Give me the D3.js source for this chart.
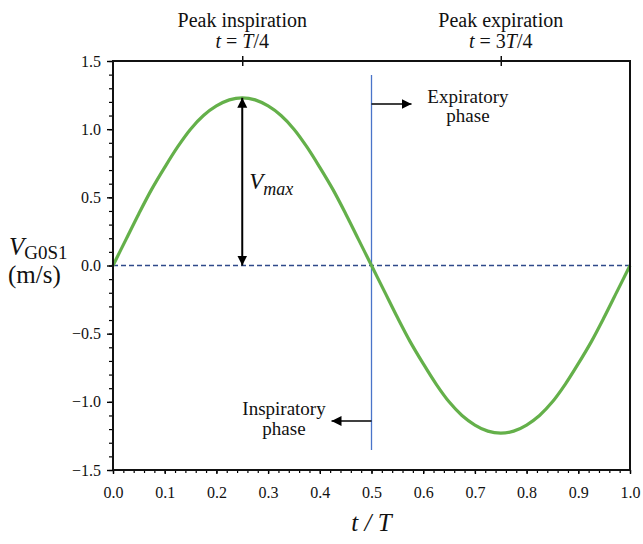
<!DOCTYPE html>
<html>
<head>
<meta charset="utf-8">
<script src="https://cdn.jsdelivr.net/npm/d3@7"></script>
</head>
<body style="margin:0;background:#fff">
<svg id="chart" width="643" height="544"></svg>
<script>
// Normalised time t/T over one breathing cycle
const tValues = [0, 0.025, 0.05, 0.075, 0.1, 0.125, 0.15, 0.175, 0.2, 0.225, 0.25,
  0.275, 0.3, 0.325, 0.35, 0.375, 0.4, 0.425, 0.45, 0.475, 0.5,
  0.525, 0.55, 0.575, 0.6, 0.625, 0.65, 0.675, 0.7, 0.725, 0.75,
  0.775, 0.8, 0.825, 0.85, 0.875, 0.9, 0.925, 0.95, 0.975, 1.0];
// Velocity V_G0S1 (m/s)
const velocity = [0, 0.19, 0.38, 0.56, 0.72, 0.87, 1.0, 1.10, 1.17, 1.215, 1.23,
  1.215, 1.17, 1.10, 1.0, 0.87, 0.72, 0.56, 0.38, 0.19, 0,
  -0.19, -0.38, -0.56, -0.72, -0.87, -1.0, -1.10, -1.17, -1.215, -1.23,
  -1.215, -1.17, -1.10, -1.0, -0.87, -0.72, -0.56, -0.38, -0.19, 0];
const xTicks = [0, 0.1, 0.2, 0.3, 0.4, 0.5, 0.6, 0.7, 0.8, 0.9, 1.0];
const yTicks = [1.5, 1.0, 0.5, 0.0, -0.5, -1.0, -1.5];
const peakTimes = [0.25, 0.75];
const peakTitles = ["Peak inspiration", "Peak expiration"];
const peakFractions = [["", "/4"], ["3", "/4"]];
const vMax = 1.23;
const phaseBoundary = 0.5;

const FONT = "Liberation Serif";
const svg = d3.select("#chart");
const plotLeft = 113, plotRight = 630, plotTop = 61, plotBottom = 470;

const x = d3.scaleLinear().domain([0, 1]).range([plotLeft, plotRight]);
const y = d3.scaleLinear().domain([-1.5, 1.5]).range([plotBottom, plotTop]);

// Serif text helper
function label(parent, px, py, size) {
  return parent.append("text").attr("x", px).attr("y", py)
    .attr("font-family", FONT).attr("font-size", size).attr("fill", "#111");
}

svg.append("defs").append("marker")
  .attr("id", "arrowHead")
  .attr("viewBox", "0 0 10 10")
  .attr("refX", 10).attr("refY", 5)
  .attr("markerWidth", 10).attr("markerHeight", 11)
  .attr("markerUnits", "userSpaceOnUse")
  .attr("orient", "auto-start-reverse")
  .append("path").attr("d", "M0,0 L10,5 L0,10 z").attr("fill", "#000");

// Zero reference line
svg.append("line")
  .attr("x1", x(0)).attr("x2", x(1))
  .attr("y1", y(0)).attr("y2", y(0))
  .attr("stroke", "#2f4a8a").attr("stroke-width", 1.6)
  .attr("stroke-dasharray", "5,3");

// Phase boundary
svg.append("line")
  .attr("x1", x(phaseBoundary)).attr("x2", x(phaseBoundary))
  .attr("y1", 75).attr("y2", 450)
  .attr("stroke", "#4a74c9").attr("stroke-width", 1.3);

// Velocity curve
const line = d3.line()
  .x((d, i) => x(tValues[i]))
  .y(d => y(d))
  .curve(d3.curveCatmullRom);
svg.append("path")
  .datum(velocity)
  .attr("d", line)
  .attr("fill", "none")
  .attr("stroke", "#64b04a")
  .attr("stroke-width", 3.2);

// Axes
const minorX = d3.range(0, 1.0001, 0.02);
const minorY = d3.range(-1.5, 1.5001, 0.1);

function styleTicks(g, w) {
  g.select(".domain").remove();
  g.attr("font-family", FONT).attr("font-size", 16);
  g.selectAll("line").attr("stroke", "#000").attr("stroke-width", w);
  g.selectAll("text").attr("font-family", FONT).attr("font-size", 16).attr("fill", "#111");
}

svg.append("g")
  .attr("transform", `translate(0,${plotBottom})`)
  .call(d3.axisBottom(x).tickValues(minorX).tickSize(3).tickFormat(""))
  .call(g => styleTicks(g, 1.2));
svg.append("g")
  .attr("transform", `translate(0,${plotBottom})`)
  .call(d3.axisBottom(x).tickValues(xTicks).tickSize(4).tickPadding(13).tickFormat(d3.format(".1f")))
  .call(g => styleTicks(g, 1.4));

svg.append("g")
  .attr("transform", `translate(${plotLeft},0)`)
  .call(d3.axisLeft(y).tickValues(minorY).tickSize(4).tickFormat(""))
  .call(g => styleTicks(g, 1.2));
svg.append("g")
  .attr("transform", `translate(${plotLeft},0)`)
  .call(d3.axisLeft(y).tickValues(yTicks).tickSize(6).tickPadding(6).tickFormat(d3.format(".1f")))
  .call(g => styleTicks(g, 1.4));

// Top axis with peak markers (ticks cross the frame)
svg.append("g")
  .attr("transform", `translate(0,${plotTop})`)
  .call(d3.axisTop(x).tickValues(peakTimes).tickSize(6).tickFormat(""))
  .call(g => styleTicks(g, 1.4))
  .call(g => g.selectAll("line").attr("y1", 5).attr("y2", -5));

// Frame
svg.append("path")
  .attr("d", `M${plotLeft},${plotBottom} V${plotTop} H${plotRight} V${plotBottom} H${plotLeft}`)
  .attr("fill", "none").attr("stroke", "#111").attr("stroke-width", 2);

// Peak titles
peakTimes.forEach((t, i) => {
  label(svg, x(t), 27, 20).attr("text-anchor", "middle").text(peakTitles[i]);
  const s = label(svg, x(t), 48, 20).attr("text-anchor", "middle");
  const parts = peakFractions[i];
  s.append("tspan").attr("font-style", "italic").text("t");
  s.append("tspan").text(" = " + parts[0]);
  s.append("tspan").attr("font-style", "italic").text("T");
  s.append("tspan").text(parts[1]);
});

// Vmax double arrow
svg.append("line")
  .attr("x1", x(0.25)).attr("x2", x(0.25))
  .attr("y1", y(0)).attr("y2", y(vMax))
  .attr("stroke", "#000").attr("stroke-width", 2)
  .attr("marker-start", "url(#arrowHead)")
  .attr("marker-end", "url(#arrowHead)");
const vm = label(svg, x(0.25) + 7, 189, 23).attr("font-style", "italic");
vm.append("tspan").text("V");
vm.append("tspan").attr("dy", 6).attr("font-size", 18).text("max");

// Phase arrows and labels
svg.append("line")
  .attr("x1", x(phaseBoundary)).attr("x2", x(phaseBoundary) + 40)
  .attr("y1", 104).attr("y2", 104)
  .attr("stroke", "#000").attr("stroke-width", 1.6)
  .attr("marker-end", "url(#arrowHead)");
label(svg, 468, 103, 19).attr("text-anchor", "middle").text("Expiratory");
label(svg, 468, 122, 19).attr("text-anchor", "middle").text("phase");

svg.append("line")
  .attr("x1", x(phaseBoundary)).attr("x2", x(phaseBoundary) - 40)
  .attr("y1", 421).attr("y2", 421)
  .attr("stroke", "#000").attr("stroke-width", 1.6)
  .attr("marker-end", "url(#arrowHead)");
label(svg, 284, 415, 19).attr("text-anchor", "middle").text("Inspiratory");
label(svg, 284, 435, 19).attr("text-anchor", "middle").text("phase");

// Axis titles
const yl = label(svg, 9, 255, 25);
yl.append("tspan").attr("font-style", "italic").text("V");
yl.append("tspan").attr("dy", 4).attr("font-size", 19).text("G0S1");
label(svg, 8, 283, 25).text("(m/s)");

label(svg, x(0.5), 531, 25).attr("text-anchor", "middle").attr("font-style", "italic")
  .text("t / T");
</script>
</body>
</html>
